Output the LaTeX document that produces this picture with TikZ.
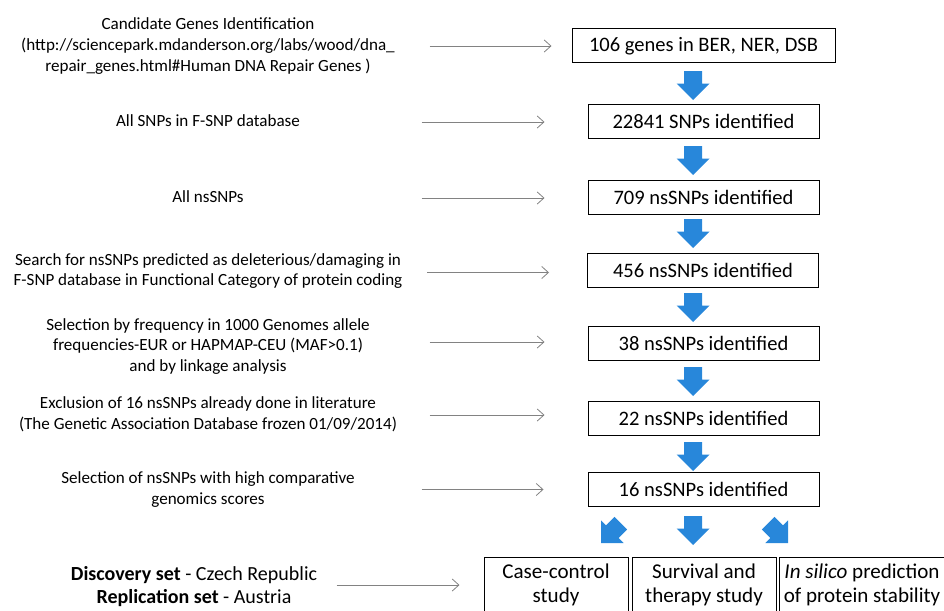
\documentclass[tikz,border=0pt]{standalone}
\usepackage{fontspec}
\setmainfont{Carlito}
\usetikzlibrary{calc,arrows.meta}

\definecolor{flowblue}{RGB}{40,135,218}
\definecolor{feedgray}{RGB}{130,130,130}

\tikzset{
  stepnode/.style={draw=black, line width=0.75pt, inner sep=0pt, minimum width=173.25pt, minimum height=25.5pt, font=\fontsize{15.4}{18}\selectfont},
  studynode/.style={draw=black, line width=0.75pt, inner sep=0pt, minimum height=42pt, align=center, font=\fontsize{15.8}{18}\selectfont},
  criterion/.style={align=center, inner sep=0pt, font=\fontsize{12.8}{15.6}\selectfont},
  feed/.style={draw=feedgray, line width=0.6pt, -{Straight Barb[length=5pt,width=9pt]}},
}

% block arrow: tip x, tip y, rotation, head size, shaft length
\newcommand{\flowarrow}[5]{%
  \fill[flowblue, shift={(#1,#2)}, rotate=#3] (0,0) -- (#4,-#4) -- (9,-#4) -- (9,-#4-#5) -- (-9,-#4-#5) -- (-9,-#4) -- (-#4,-#4) -- cycle;}

\begin{document}
\begin{tikzpicture}[x=0.75pt,y=0.75pt,yscale=-1,xscale=1]
\path[use as bounding box] (0,0) rectangle (944,610);
\clip (0,0) rectangle (944,610);

% Result boxes
\node[stepnode, minimum width=197.25pt] (b1) at (703.5,46) {106 genes in BER, NER, DSB};
\node[stepnode] (b2) at (703.5,121) {22841 SNPs identified};
\node[stepnode] (b3) at (703.5,197) {709 nsSNPs identified};
\node[stepnode] (b4) at (703,270.5) {456 nsSNPs identified};
\node[stepnode] (b5) at (703.5,343) {38 nsSNPs identified};
\node[stepnode] (b6) at (703.5,418) {22 nsSNPs identified};
\node[stepnode] (b7) at (703.5,489.5) {16 nsSNPs identified};

% Study boxes
\node[studynode, minimum width=108pt] (cc) at (556,585) {Case-control\\study};
\node[studynode, minimum width=108pt] (sv) at (704,585) {Survival and\\therapy study};
\node[studynode, minimum width=124.5pt] (is) at (862,585) {\textit{In silico} prediction\\of protein stability};

% Criteria
\node[criterion] (c1) at (208,46) {Candidate Genes Identification\\(http://sciencepark.mdanderson.org/labs/wood/dna\_\\repair\_genes.html\#Human DNA Repair Genes )};
\node[criterion] (c2) at (208,121) {All SNPs in F-SNP database};
\node[criterion] (c3) at (208,197) {All nsSNPs};
\node[criterion] (c4) at (208,271) {Search for nsSNPs predicted as deleterious/damaging in\\F-SNP database in Functional Category of protein coding};
\node[criterion] (c5) at (208,346.5) {Selection by frequency in 1000 Genomes allele\\frequencies-EUR or HAPMAP-CEU (MAF>0.1)\\and by linkage analysis};
\node[criterion] (c6) at (208,414.5) {Exclusion of 16 nsSNPs already done in literature\\(The Genetic Association Database frozen 01/09/2014)};
\node[criterion] (c7) at (208,489.5) {Selection of nsSNPs with high comparative\\genomics scores};
\node[criterion, font=\fontsize{15}{17.25}\selectfont] (c8) at (194,586.5) {\textbf{Discovery set} - Czech Republic\\\textbf{Replication set} - Austria};

% Gray arrows
\draw[feed] ($(b1.west)+(-142,0)$) -- ($(b1.west)+(-20,0)$);
\draw[feed] ($(b2.west)+(-166,1)$) -- ($(b2.west)+(-43,1)$);
\draw[feed] ($(b3.west)+(-166,1)$) -- ($(b3.west)+(-43,1)$);
\draw[feed] ($(b4.west)+(-160,2)$) -- ($(b4.west)+(-38,2)$);
\draw[feed] ($(b5.west)+(-158,-1)$) -- ($(b5.west)+(-43,-1)$);
\draw[feed] ($(b6.west)+(-158,-3)$) -- ($(b6.west)+(-43,-3)$);
\draw[feed] ($(b7.west)+(-166,0)$) -- ($(b7.west)+(-44,0)$);
\draw[feed] ($(cc.west)+(-147,0)$) -- ($(cc.west)+(-24,0)$);

% Blue block arrows
\flowarrow{693}{100}{0}{16.5}{12.5}
\flowarrow{693}{175}{0}{16.5}{12.5}
\flowarrow{693}{248}{0}{16.5}{12.5}
\flowarrow{693}{322}{0}{16.5}{12.5}
\flowarrow{693}{396}{0}{16.5}{12.5}
\flowarrow{693}{471}{0}{16.5}{12.5}
\flowarrow{693}{545}{0}{16.5}{12.5}
\flowarrow{601}{543}{45}{16}{12}
\flowarrow{788}{543}{-45}{16}{12}

\end{tikzpicture}
\end{document}
